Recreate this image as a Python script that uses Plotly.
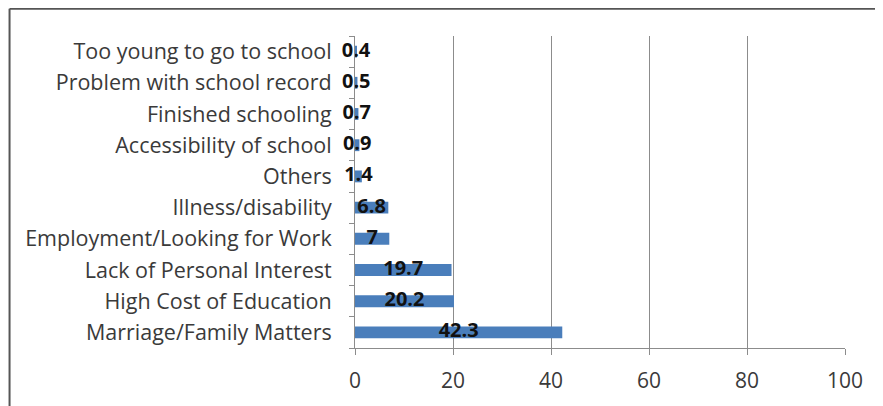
import plotly.graph_objects as go

reasons = [
    "Marriage/Family Matters",
    "High Cost of Education",
    "Lack of Personal Interest",
    "Employment/Looking for Work",
    "Illness/disability",
    "Others",
    "Accessibility of school",
    "Finished schooling",
    "Problem with school record",
    "Too young to go to school",
]
percent = [42.3, 20.2, 19.7, 7, 6.8, 1.4, 0.9, 0.7, 0.5, 0.4]
x_ticks = [0, 20, 40, 60, 80, 100]

FONT = "Open Sans"

fig = go.Figure()
fig.add_trace(go.Bar(
    x=percent,
    y=reasons,
    orientation="h",
    marker=dict(color="#4a7ebb", line=dict(width=0)),
    hoverinfo="x+y",
))
# value labels centred on each bar
fig.add_trace(go.Scatter(
    x=[v / 2 for v in percent],
    y=reasons,
    mode="text",
    text=[f"{v:g}" for v in percent],
    textfont=dict(family=FONT, size=20, color="#111111", weight="bold"),
    cliponaxis=False,
    hoverinfo="skip",
))

# page body adds an 8px offset, margins below account for it
fig.update_layout(
    width=883,
    height=406,
    margin=dict(l=347, r=46, t=28, b=66, autoexpand=False),
    paper_bgcolor="white",
    plot_bgcolor="white",
    showlegend=False,
    bargap=0.62,
    font=dict(family=FONT, size=21.5, color="#3a3a3a"),
    shapes=[
        dict(type="line", xref="paper", yref="paper",
             x0=-0.705, x1=1.2, y0=1.087, y1=1.087,
             line=dict(color="#555555", width=2)),
        dict(type="line", xref="paper", yref="paper",
             x0=-0.705, x1=-0.705, y0=-0.4, y1=1.087,
             line=dict(color="#555555", width=2)),
    ],
)
fig.update_xaxes(
    range=[0, 100],
    tickvals=x_ticks,
    automargin=False,
    showgrid=True,
    gridcolor="#8c8c8c",
    gridwidth=1,
    zeroline=False,
    showline=True,
    linecolor="#8c8c8c",
    ticks="outside",
    ticklen=6,
    tickcolor="#8c8c8c",
    ticklabelstandoff=8,
    tickfont=dict(family=FONT, size=21, color="#3a3a3a"),
)
fig.update_yaxes(
    type="category",
    categoryorder="array",
    categoryarray=reasons,
    automargin=False,
    showgrid=False,
    zeroline=False,
    showline=True,
    linecolor="#8c8c8c",
    ticks="outside",
    tickson="boundaries",
    ticklen=5,
    tickcolor="#8c8c8c",
    ticklabelstandoff=18,
    tickfont=dict(family=FONT, size=21.5, color="#3a3a3a"),
)

fig.write_html("out.html")
